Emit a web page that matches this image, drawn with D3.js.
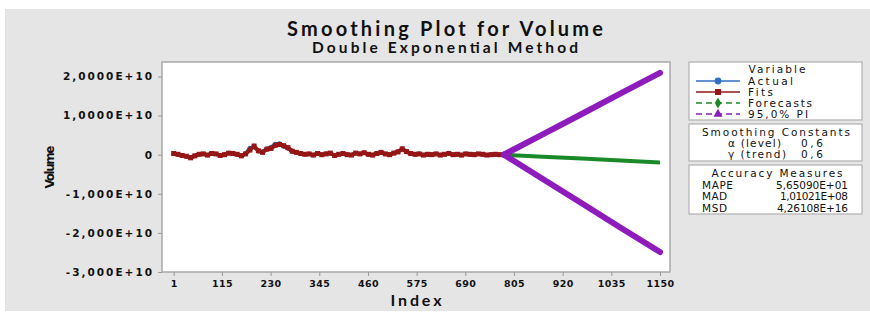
<!DOCTYPE html>
<html><head><meta charset="utf-8">
<script src="https://cdn.jsdelivr.net/npm/d3@7"></script>
<style>
html,body{margin:0;padding:0;background:#fff;}
svg text{font-family:"DejaVu Sans",sans-serif;fill:#111;}
</style></head>
<body><svg id="c" width="870" height="317"></svg>
<script>
// ---- data (values in units of 1e9) ----
const fitIndex = d3.range(1, 782, 10);
const fitValues = [0.3,0.1,-0.2,-0.4,-0.8,-0.3,0.1,0.2,-0.1,0.3,0.2,-0.2,0.0,0.4,0.3,0.1,-0.3,0.2,1.2,2.2,
 1.0,0.6,1.4,1.6,2.4,2.6,2.3,1.8,0.9,0.6,0.3,0.1,0.2,-0.1,0.3,0.0,0.2,0.4,-0.2,0.1,
 0.3,0.0,-0.1,0.4,0.2,0.5,0.1,-0.1,0.3,0.6,0.2,0.0,0.4,0.7,1.5,0.8,0.3,0.1,0.2,-0.1,
 0.1,0.0,0.2,-0.1,0.1,0.3,0.0,0.1,-0.1,0.2,0.1,0.0,0.2,0.1,-0.1,0.0,0.1,0.0,0.0];
const actualValues = [0.2,0.0,-0.3,-0.5,-0.6,-0.2,0.2,0.1,0.0,0.4,0.1,-0.1,0.1,0.5,0.2,0.0,-0.2,0.4,1.8,1.9,
 0.8,0.9,1.6,2.0,2.8,2.9,2.0,1.5,0.7,0.5,0.2,0.2,0.1,0.0,0.4,-0.1,0.3,0.3,-0.1,0.2,
 0.2,0.1,0.0,0.5,0.1,0.4,0.0,0.0,0.4,0.5,0.1,0.1,0.5,0.9,1.3,0.6,0.2,0.0,0.3,0.0,
 0.0,0.1,0.1,0.0,0.2,0.2,-0.1,0.2,0.0,0.1,0.0,0.1,0.1,0.0,0.0,0.1,0.0,0.0,0.0];
const fcIndex = [781, 873, 965, 1057, 1150];
const forecastValues = [0.0, -0.5, -1.0, -1.5, -2.0];
const upperPI = [0.0, 5.2, 10.4, 15.7, 20.9];
const lowerPI = [0.0, -6.2, -12.4, -18.7, -24.9];
const xTicks = [1,115,230,345,460,575,690,805,920,1035,1150];
const yTicks = [20,10,0,-10,-20,-30];
const yTickLabels = ["2,0000E+10","1,0000E+10","0","-1,000E+10","-2,000E+10","-3,000E+10"];
const legendItems = ["Actual","Fits","Forecasts","95,0% PI"];
const constLabels = ["\u03b1 (level)","\u03b3 (trend)"];
const constValues = ["0,6","0,6"];
const accLabels = ["MAPE","MAD","MSD"];
const accValues = ["5,65090E+01","1,01021E+08","4,26108E+16"];

const svg = d3.select("#c");
svg.append("rect").attr("x",5).attr("y",9).attr("width",865).attr("height",302).attr("fill","#e5e5e5");

const L=162,R=670,T=62,B=272;
const x = d3.scaleLinear().domain([-26.6,1173.6]).range([L,R]);
const y = d3.scaleLinear().domain([-30,23.7]).range([B,T]);

svg.append("rect").attr("x",L).attr("y",T).attr("width",R-L).attr("height",B-T)
 .attr("fill","#fff").attr("stroke","#a8a8a8").attr("stroke-width",1.5);

// axes
const xa = svg.append("g").attr("transform",`translate(0,${B})`)
 .call(d3.axisBottom(x).tickValues(xTicks).tickFormat(d3.format("d")).tickSize(4).tickSizeOuter(0).tickPadding(4));
const ya = svg.append("g").attr("transform",`translate(${L},0)`)
 .call(d3.axisLeft(y).tickValues(yTicks).tickFormat((d,i)=>yTickLabels[i]).tickSize(4).tickSizeOuter(0).tickPadding(4));
[xa,ya].forEach(a=>{a.select(".domain").remove();a.selectAll("line").attr("stroke","#999");
 a.selectAll("text").style("font-family","DejaVu Sans").style("font-weight","bold").attr("fill","#111");});
xa.selectAll("text").style("font-size","9.5px").style("letter-spacing","0.4px");
ya.selectAll("text").style("font-size","10.5px").style("letter-spacing","2px");

const T2=(xx,yy,t,opt)=>{const e=svg.append("text").attr("x",xx).attr("y",yy).attr("text-anchor",opt.anchor||"start")
 .style("font-size",(opt.size||10.5)+"px").style("font-weight",opt.weight||"normal").style("font-family",opt.family||"DejaVu Sans").text(t);
 if(opt.len){e.attr("textLength",opt.len).attr("lengthAdjust","spacing");} return e;};

T2(416,306,"Index",{anchor:"middle",size:16,weight:"bold",family:"Lato",len:51});
T2(0,0,"Volume",{anchor:"middle",size:12,weight:"bold",len:43}).attr("transform","translate(54,167) rotate(-90)");

T2(445,35.5,"Smoothing Plot for Volume",{anchor:"middle",size:20,weight:"bold",family:"Lato",len:316});
T2(445,53,"Double Exponential Method",{anchor:"middle",size:15.5,weight:"bold",family:"Lato",len:266});

const line = d3.line().x(d=>x(d[0])).y(d=>y(d[1]));
const actual = fitIndex.map((t,i)=>[t,actualValues[i]]);
const fits = fitIndex.map((t,i)=>[t,fitValues[i]]);
const fc = fcIndex.map((t,i)=>[t,forecastValues[i]]);
const up = fcIndex.map((t,i)=>[t,upperPI[i]]);
const lo = fcIndex.map((t,i)=>[t,lowerPI[i]]);
const gp = svg.append("g");
gp.append("path").attr("d",line(actual)).attr("fill","none").attr("stroke","#2a62b8").attr("stroke-width",3);
gp.selectAll(".ac").data(actual).join("circle").attr("cx",d=>x(d[0])).attr("cy",d=>y(d[1])).attr("r",2).attr("fill","#2a62b8");
gp.append("path").attr("d",line(fits)).attr("fill","none").attr("stroke","#961616").attr("stroke-width",4);
gp.selectAll(".ft").data(fits).join("rect").attr("x",d=>x(d[0])-2.5).attr("y",d=>y(d[1])-2.5).attr("width",5).attr("height",5).attr("fill","#961616");
gp.append("path").attr("d",line(fc)).attr("fill","none").attr("stroke","#1a8a28").attr("stroke-width",4);
[up,lo].forEach(p=>gp.append("path").attr("d",line(p)).attr("fill","none").attr("stroke","#8e1cbc").attr("stroke-width",6).attr("stroke-linecap","round"));

// legend boxes
const box=(y0,h)=>svg.append("rect").attr("x",689).attr("y",y0).attr("width",173).attr("height",h).attr("fill","#fff").attr("stroke","#b0b0b0").attr("stroke-width",1.2);
box(62,58); box(124,37); box(165,49);
T2(777,73,"Variable",{anchor:"middle",len:57});
const colors=["#2f6fc0","#961616","#1a8a28","#8e1cbc"];
const dashes=[null,null,"6,4","6,4"];
const legLens=[45,25,64,60];
legendItems.forEach((t,i)=>{
 const yy=81+i*11;
 svg.append("line").attr("x1",696).attr("x2",740).attr("y1",yy).attr("y2",yy).attr("stroke",colors[i]).attr("stroke-width",1.5).attr("stroke-dasharray",dashes[i]);
 const sym=[d3.symbolCircle,d3.symbolSquare,d3.symbolDiamond,d3.symbolTriangle][i];
 svg.append("path").attr("d",d3.symbol().type(sym).size(36)()).attr("transform",`translate(718,${yy})`).attr("fill",colors[i]);
 T2(748,yy+4,t,{len:legLens[i]});
});
T2(776,136,"Smoothing Constants",{anchor:"middle",len:148});
const cLens=[53,58];
constLabels.forEach((t,i)=>{T2(728,147+i*11,t,{len:cLens[i]});T2(801,147+i*11,constValues[i],{len:22});});
T2(777,177,"Accuracy Measures",{anchor:"middle",len:131});
const aLens=[31,25,25], vLens=[72,68,71];
accLabels.forEach((t,i)=>{T2(702,188.5+i*11.5,t,{len:aLens[i]});T2(848,188.5+i*11.5,accValues[i],{anchor:"end",len:vLens[i]});});
</script></body></html>
